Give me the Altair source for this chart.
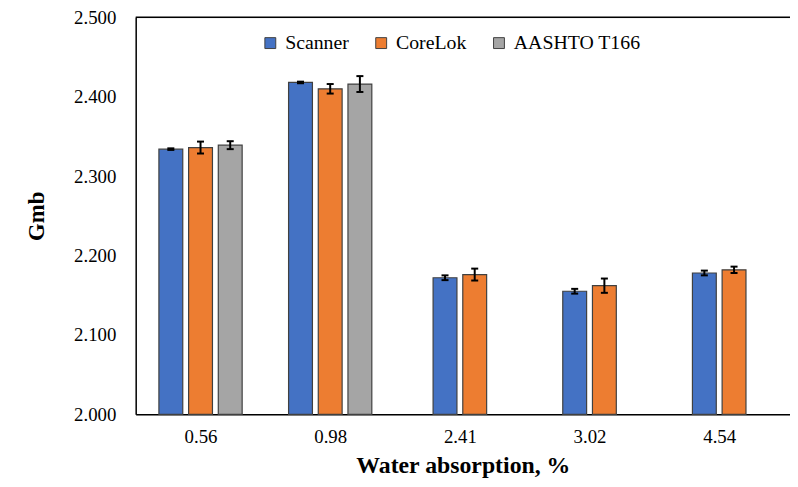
import altair as alt
import pandas as pd

categories = ["0.56", "0.98", "2.41", "3.02", "4.54"]
series = ["Scanner", "CoreLok", "AASHTO T166"]
scanner = [2.334, 2.418, 2.172, 2.155, 2.178]
scanner_err = [0.001, 0.001, 0.003, 0.003, 0.003]
corelok = [2.336, 2.410, 2.176, 2.162, 2.182]
corelok_err = [0.0075, 0.006, 0.0075, 0.009, 0.004]
aashto = [2.339, 2.416, None, None, None]
aashto_err = [0.005, 0.010, None, None, None]
colors = ["#4472C4", "#ED7D31", "#A5A5A5"]

SLOT = 0.229
HALF_W = 0.092
CAP = 0.027

rows = []
vals = [scanner, corelok, aashto]
errs = [scanner_err, corelok_err, aashto_err]
for i, cat in enumerate(categories):
    present = [s for s in range(3) if vals[s][i] is not None]
    n = len(present)
    for k, s in enumerate(present):
        pos = i + (k - (n - 1) / 2) * SLOT
        v = vals[s][i]
        e = errs[s][i]
        rows.append(dict(cat=cat, series=series[s], order=s, value=v,
                         lo=v - e, hi=v + e, pos=pos,
                         x0=pos - HALF_W, x1=pos + HALF_W,
                         c0=pos - CAP, c1=pos + CAP))
df = pd.DataFrame(rows)

label_expr = "[" + ",".join("'" + c + "'" for c in categories) + "][datum.value]"

xscale = alt.Scale(domain=[-0.5, 4.546], nice=False, zero=False)
yscale = alt.Scale(domain=[2.0, 2.5], nice=False, zero=False)

base = alt.Chart(df)

bars = base.mark_bar(stroke="#404040", strokeWidth=1.2).encode(
    x=alt.X("x0:Q", scale=xscale,
            axis=alt.Axis(values=[0, 1, 2, 3, 4], labelExpr=label_expr,
                          title="Water absorption, %", ticks=False, grid=False,
                          domainColor="#000000", domainWidth=1.5,
                          labelFont="Liberation Serif", labelFontSize=19,
                          labelColor="#000000", labelPadding=14,
                          titleFont="Liberation Serif", titleFontSize=24,
                          titleFontWeight="bold", titleColor="#000000",
                          titlePadding=7)),
    x2="x1:Q",
    y=alt.Y("value:Q", scale=yscale,
            axis=alt.Axis(values=[2.0, 2.1, 2.2, 2.3, 2.4, 2.5], format=".3f",
                          title="Gmb", ticks=False, grid=False,
                          domainColor="#000000", domainWidth=1.5,
                          labelFont="Liberation Serif", labelFontSize=19,
                          labelColor="#000000", labelPadding=20,
                          titleFont="Liberation Serif", titleFontSize=23,
                          titleFontWeight="bold", titleColor="#000000",
                          titlePadding=25)),
    y2=alt.datum(2.0),
    color=alt.Color("series:N", scale=alt.Scale(domain=series, range=colors),
                    legend=alt.Legend(title=None, orient="none", direction="horizontal",
                                      columns=3, legendX=126, legendY=16,
                                      symbolType="square", symbolSize=121,
                                      symbolStrokeColor="#404040", symbolStrokeWidth=1,
                                      labelFont="Liberation Serif", labelFontSize=20,
                                      labelColor="#000000", columnPadding=22,
                                      labelOffset=5)),
)

err = base.mark_rule(color="#000000", strokeWidth=2).encode(
    x="pos:Q", y="lo:Q", y2="hi:Q")
cap_lo = base.mark_rule(color="#000000", strokeWidth=2).encode(
    x="c0:Q", x2="c1:Q", y="lo:Q")
cap_hi = base.mark_rule(color="#000000", strokeWidth=2).encode(
    x="c0:Q", x2="c1:Q", y="hi:Q")

top = alt.Chart(pd.DataFrame({"v": [2.5]})).mark_rule(color="#000000", strokeWidth=1.5).encode(
    y=alt.Y("v:Q", scale=yscale))

chart = alt.layer(bars, err, cap_lo, cap_hi, top).properties(
    width=661, height=401,
    autosize=alt.AutoSizeParams(type="none"),
    padding={"left": 129, "top": 7, "right": 0, "bottom": 71},
).configure_view(stroke=None).configure(background="#ffffff")

chart.save("out.html", embed_options={"renderer": "svg", "actions": False})
